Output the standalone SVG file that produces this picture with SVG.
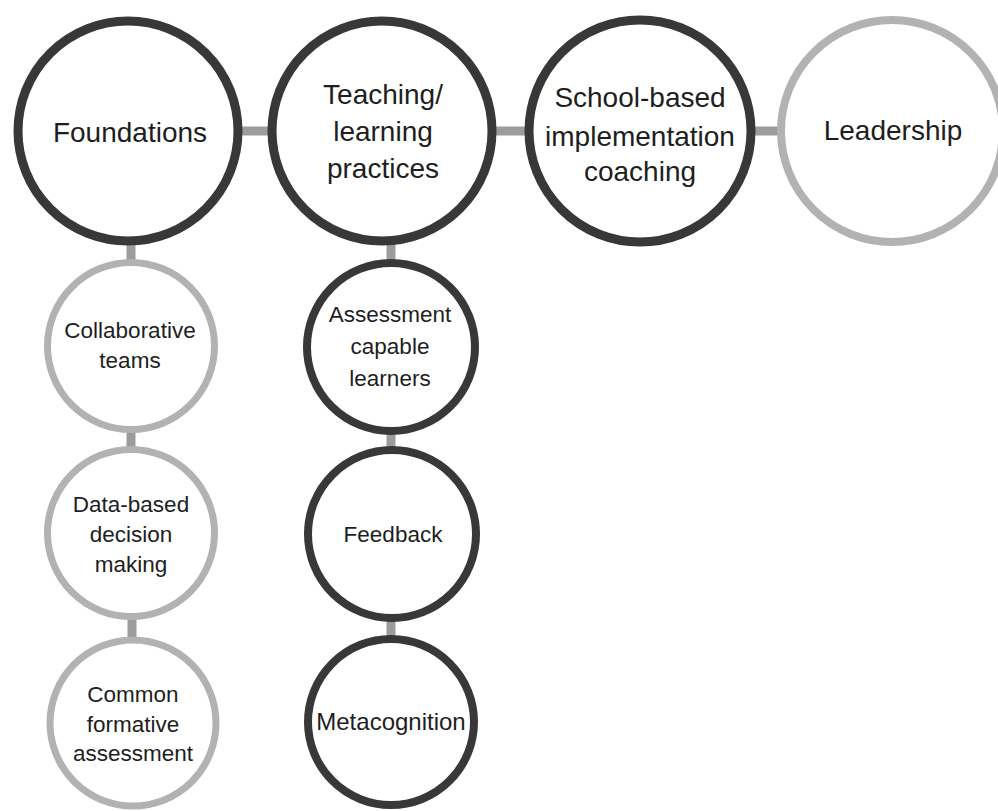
<svg xmlns="http://www.w3.org/2000/svg" width="998" height="811" viewBox="0 0 998 811">
<style>
.bg{fill:#ffffff}
.dark{fill:#ffffff;stroke:#383838;stroke-width:9}
.darks{fill:#ffffff;stroke:#383838;stroke-width:8}
.light{fill:#ffffff;stroke:#b2b2b2;stroke-width:8}
.lights{fill:#ffffff;stroke:#b2b2b2;stroke-width:7}
.con{stroke:#9c9c9c;stroke-width:9;fill:none}
.big{font-family:"Liberation Sans",Arial,sans-serif;font-size:28px;fill:#1e1e1e;text-anchor:middle}
.small{font-family:"Liberation Sans",Arial,sans-serif;font-size:22.5px;fill:#1e1e1e;text-anchor:middle}
</style>
<rect class="bg" x="0" y="0" width="998" height="811"/>
<g id="connectors">
<line class="con" x1="236" y1="131" x2="274" y2="131"/>
<line class="con" x1="490" y1="131" x2="531" y2="131"/>
<line class="con" x1="748" y1="131" x2="783" y2="131"/>
<line class="con" x1="131" y1="240" x2="131" y2="264"/>
<line class="con" x1="131" y1="428" x2="131" y2="451"/>
<line class="con" x1="132" y1="615" x2="132" y2="641"/>
<line class="con" x1="391" y1="240" x2="391" y2="264"/>
<line class="con" x1="391" y1="430" x2="391" y2="451"/>
<line class="con" x1="391" y1="617" x2="391" y2="640"/>
</g>
<g id="foundations">
<circle class="dark" cx="128" cy="131" r="110"/>
<text class="big" x="130" y="142">Foundations</text>
</g>
<g id="teaching">
<circle class="dark" cx="382" cy="131" r="110"/>
<text class="big" x="383" y="104">Teaching/</text>
<text class="big" x="383" y="141">learning</text>
<text class="big" x="383" y="178">practices</text>
</g>
<g id="school">
<circle class="dark" cx="640" cy="131" r="111"/>
<text class="big" x="640" y="107">School-based</text>
<text class="big" x="640" y="146">implementation</text>
<text class="big" x="640" y="181">coaching</text>
</g>
<g id="leadership">
<circle class="light" cx="892" cy="131" r="111"/>
<text class="big" x="893" y="140">Leadership</text>
</g>
<g id="collaborative">
<circle class="lights" cx="131" cy="346" r="83.5"/>
<text class="small" x="130" y="338">Collaborative</text>
<text class="small" x="130" y="368">teams</text>
</g>
<g id="databased">
<circle class="lights" cx="131" cy="533" r="83.5"/>
<text class="small" x="131" y="512">Data-based</text>
<text class="small" x="131" y="542">decision</text>
<text class="small" x="131" y="572">making</text>
</g>
<g id="common">
<circle class="lights" cx="133" cy="723" r="83"/>
<text class="small" x="133" y="702">Common</text>
<text class="small" x="133" y="732">formative</text>
<text class="small" x="133" y="761">assessment</text>
</g>
<g id="assessment">
<circle class="darks" cx="391" cy="347" r="84"/>
<text class="small" x="390" y="322">Assessment</text>
<text class="small" x="390" y="354">capable</text>
<text class="small" x="390" y="386">learners</text>
</g>
<g id="feedback">
<circle class="darks" cx="392" cy="534" r="84"/>
<text class="small" x="393" y="542">Feedback</text>
</g>
<g id="metacognition">
<circle class="darks" cx="391" cy="722" r="83"/>
<text class="small" x="391" y="730" style="font-size:24px">Metacognition</text>
</g>
</svg>
